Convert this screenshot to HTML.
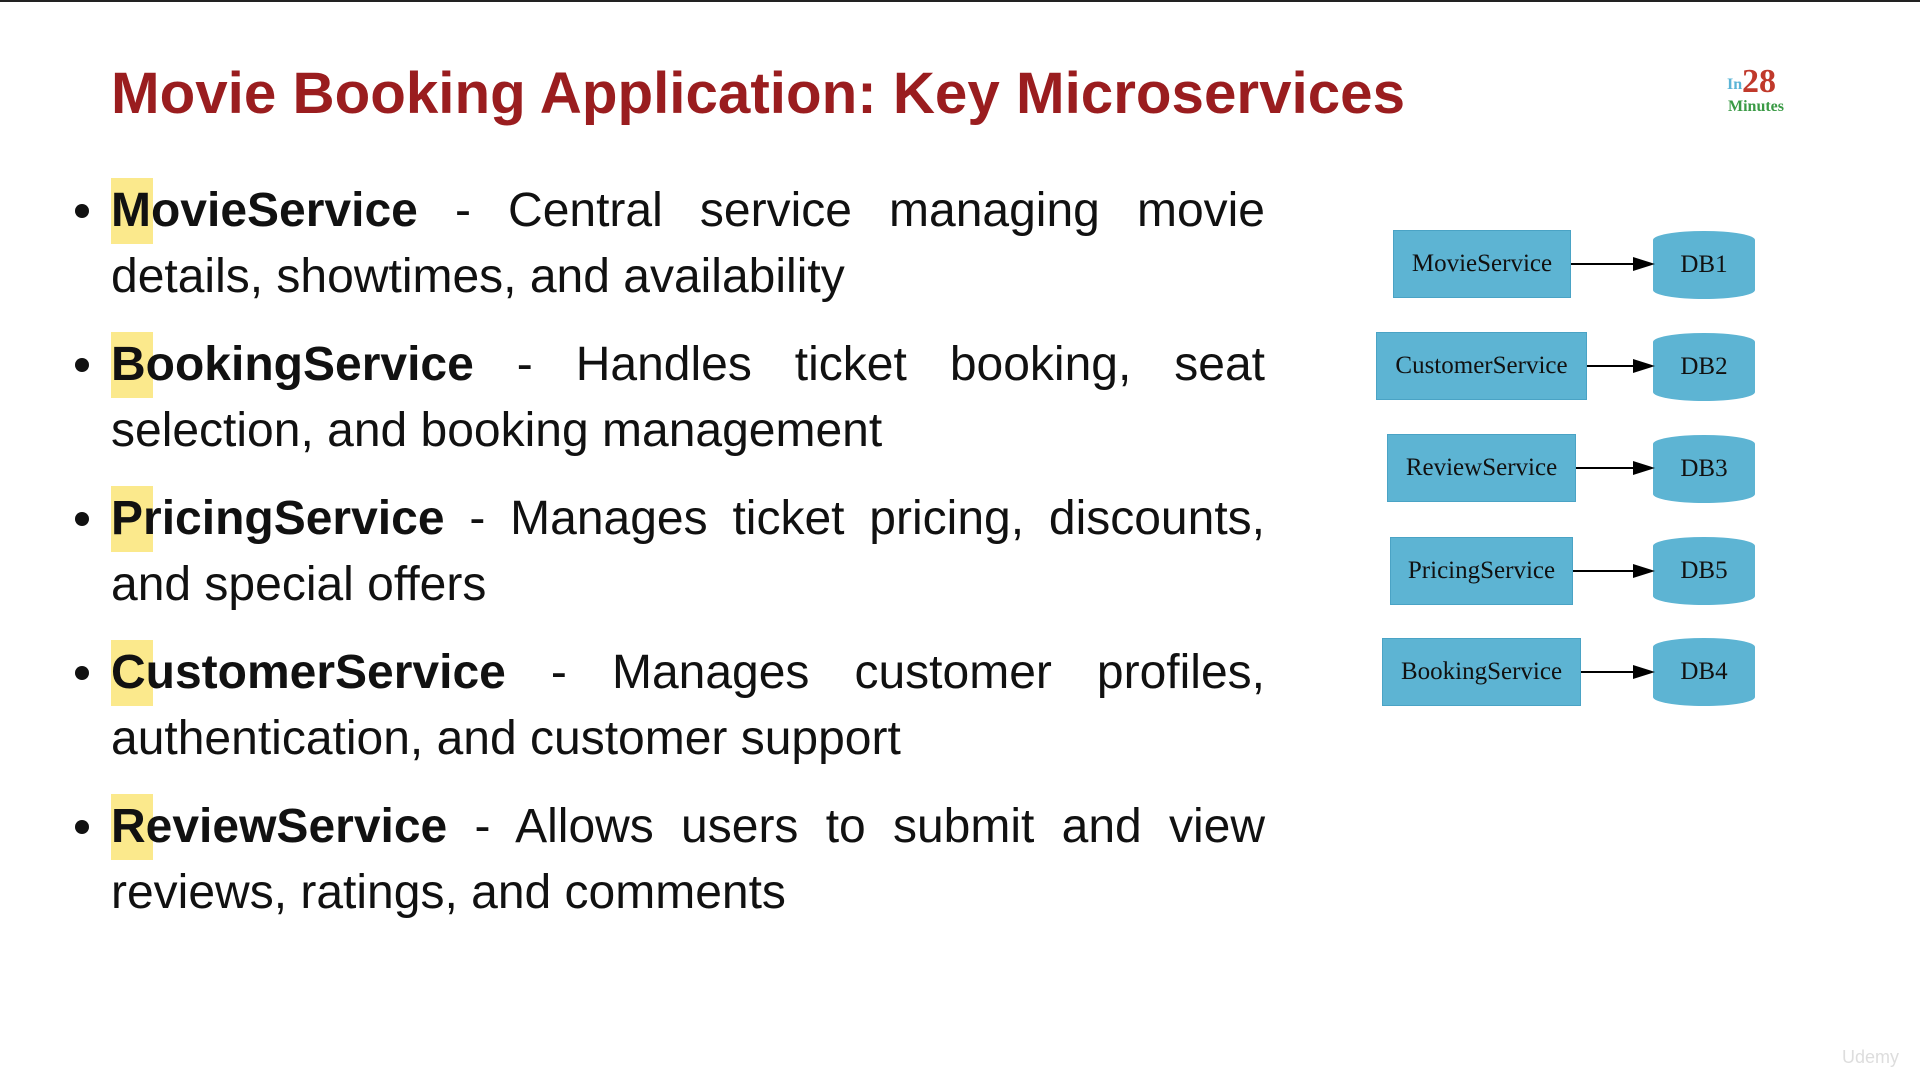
<!DOCTYPE html>
<html><head><meta charset="utf-8"><style>
body{margin:0;width:1920px;height:1080px;background:#fff;position:relative;overflow:hidden;font-family:"Liberation Sans",sans-serif}
.topline{position:absolute;left:0;top:0;width:1920px;height:2px;background:#222}
.b{position:absolute;left:111px;width:1154px;font-size:48px;color:#111}
.l{height:66px;line-height:66px;white-space:nowrap;position:relative}
.j{text-align:justify;text-align-last:justify;white-space:normal}
.dot{position:absolute;left:-36px;top:26px;width:14px;height:14px;border-radius:50%;background:#111}
.hlbg{position:absolute;left:0;top:0;width:42px;height:66px;background:#fbe98c;z-index:-1}
.bold{font-weight:bold}
.box{position:absolute;background:#5db4d3;border:1px solid #4aa3c5;display:flex;align-items:center;justify-content:center;font-family:"Liberation Serif",serif;font-size:25px;color:#111;box-sizing:border-box}
.db{position:absolute;left:1653px;width:102px;height:68px;background:#5db4d3;border-radius:50%/9px;display:flex;align-items:center;justify-content:center;font-family:"Liberation Serif",serif;font-size:25px;color:#111}
</style></head><body>
<div class="topline"></div>
<svg style="position:absolute;left:0;top:0" width="1920" height="140">
<text x="111" y="113" textLength="1294" lengthAdjust="spacingAndGlyphs" font-family="Liberation Sans" font-weight="bold" font-size="58" fill="#9a1d1f">Movie Booking Application: Key Microservices</text>
<text x="1727" y="89" font-family="Liberation Serif" font-weight="bold" font-size="16" fill="#5ab4d6">In</text>
<text x="1742" y="92" font-family="Liberation Serif" font-weight="bold" font-size="34" fill="#c0392b">28</text>
<text x="1728" y="111" font-family="Liberation Serif" font-weight="bold" font-size="16" fill="#3a9a45">Minutes</text>
</svg>

<div class="b" style="top:178px"><div class="dot"></div>
<div class="l j"><div class="hlbg"></div><span class="bold">MovieService</span> - Central service managing movie</div>
<div class="l">details, showtimes, and availability</div></div>

<div class="b" style="top:332px"><div class="dot"></div>
<div class="l j"><div class="hlbg"></div><span class="bold">BookingService</span> - Handles ticket booking, seat</div>
<div class="l">selection, and booking management</div></div>

<div class="b" style="top:486px"><div class="dot"></div>
<div class="l j"><div class="hlbg"></div><span class="bold">PricingService</span> - Manages ticket pricing, discounts,</div>
<div class="l">and special offers</div></div>

<div class="b" style="top:640px"><div class="dot"></div>
<div class="l j"><div class="hlbg"></div><span class="bold">CustomerService</span> - Manages customer profiles,</div>
<div class="l">authentication, and customer support</div></div>

<div class="b" style="top:794px"><div class="dot"></div>
<div class="l j"><div class="hlbg"></div><span class="bold">ReviewService</span> - Allows users to submit and view</div>
<div class="l">reviews, ratings, and comments</div></div>

<div class="box" style="left:1393px;top:230px;width:178px;height:68px">MovieService</div>
<div class="box" style="left:1376px;top:332px;width:211px;height:68px">CustomerService</div>
<div class="box" style="left:1387px;top:434px;width:189px;height:68px">ReviewService</div>
<div class="box" style="left:1390px;top:537px;width:183px;height:68px">PricingService</div>
<div class="box" style="left:1382px;top:638px;width:199px;height:68px">BookingService</div>
<div class="db" style="top:231px">DB1</div>
<div class="db" style="top:333px">DB2</div>
<div class="db" style="top:435px">DB3</div>
<div class="db" style="top:537px">DB5</div>
<div class="db" style="top:638px">DB4</div>
<svg style="position:absolute;left:0;top:0" width="1920" height="1080">
<g stroke="#000" stroke-width="2">
<line x1="1571" y1="264" x2="1635" y2="264"/>
<line x1="1587" y1="366" x2="1635" y2="366"/>
<line x1="1576" y1="468" x2="1635" y2="468"/>
<line x1="1573" y1="571" x2="1635" y2="571"/>
<line x1="1581" y1="672" x2="1635" y2="672"/>
</g>
<g fill="#000">
<polygon points="1633,257 1655,264 1633,271"/>
<polygon points="1633,359 1655,366 1633,373"/>
<polygon points="1633,461 1655,468 1633,475"/>
<polygon points="1633,564 1655,571 1633,578"/>
<polygon points="1633,665 1655,672 1633,679"/>
</g>
<text x="1842" y="1063" font-family="Liberation Sans" font-size="18" fill="#ddd">Udemy</text>
</svg>
</body></html>
